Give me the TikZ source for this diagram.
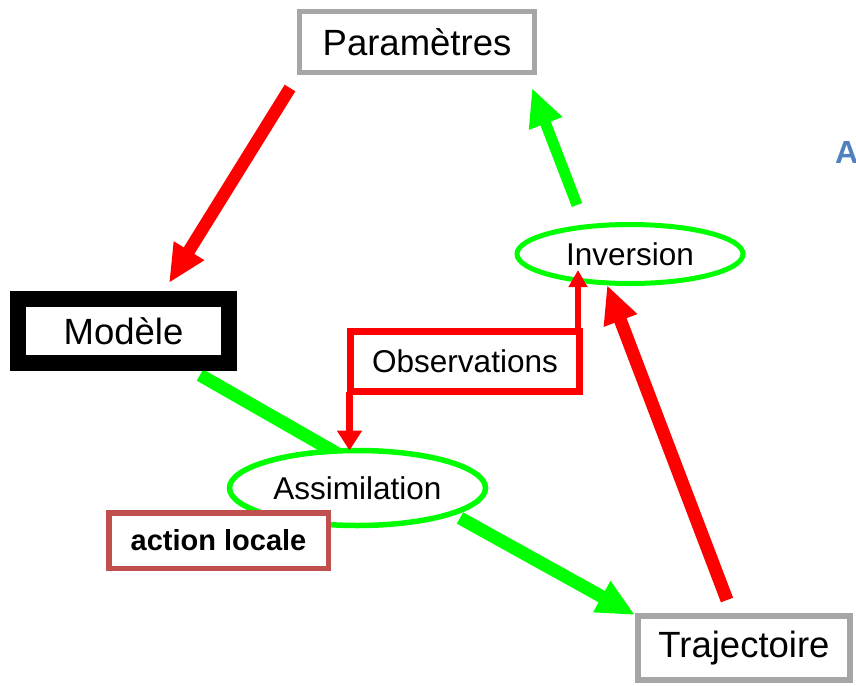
\documentclass[tikz,border=0pt]{standalone}
\usepackage{fontspec}
\setmainfont{Liberation Sans}
\usetikzlibrary{arrows.meta,shapes.geometric}
\definecolor{gr}{HTML}{00FF00}
\definecolor{rd}{HTML}{FF0000}
\definecolor{gy}{HTML}{A6A6A6}
\definecolor{brn}{HTML}{C0504D}
\definecolor{bl}{HTML}{4F81BD}
\tikzset{
  box/.style={draw, fill=white, rectangle, inner sep=0pt, outer sep=0pt},
  ell/.style={draw=gr, line width=5pt, fill=white, ellipse, inner sep=0pt, outer sep=0pt},
  bigtxt/.style={font=\fontsize{36.5}{40}\selectfont},
  midtxt/.style={font=\fontsize{31.5}{36}\selectfont},
  fat/.style={line width=12.5pt, -{Triangle[length=38pt,width=33pt]}},
}
\begin{document}
\begin{tikzpicture}[x=1pt,y=-1pt]
\useasboundingbox (0,0) rectangle (856,685);
% green line hidden behind the Assimilation ellipse
\coordinate (m1) at (200,375);
\coordinate (m2) at (352,462);
\draw[gr, line width=13pt] (m1) -- (m2);
% nodes
\node[box, draw=gy, line width=5pt, minimum width=235pt, minimum height=61pt, bigtxt] (param) at (417,42) {Paramètres};
\node[box, draw=black, line width=16pt, minimum width=211pt, minimum height=64pt, bigtxt] (modele) at (123.5,331) {Modèle};
\node[box, draw=rd, line width=7pt, minimum width=229pt, minimum height=60pt, midtxt] (obs) at (465,361.5) {Observations};
\node[ell, minimum width=226pt, minimum height=59pt, midtxt] (inv) at (630,254) {Inversion};
\node[ell, line width=5.5pt, minimum width=256pt, minimum height=75pt, midtxt] (assim) at (357.5,488) {Assimilation};
\node[box, draw=brn, line width=5.5pt, minimum width=219.5pt, minimum height=55.5pt, font=\fontsize{29}{32}\selectfont\bfseries] (action) at (218.5,540.5) {action locale};
\node[box, draw=gy, line width=6pt, minimum width=212pt, minimum height=64pt, bigtxt] (traj) at (744,648) {Trajectoire};
\node[anchor=base west, inner sep=0pt, text=bl, font=\fontsize{32}{36}\selectfont\bfseries] (lblA) at (835,163) {A};
% coordinates for arrows
\coordinate (a1) at (290,88);
\coordinate (a2) at (169,283);
\coordinate (b1) at (460,518);
\coordinate (b2) at (635,615);
\coordinate (c1) at (727,600);
\coordinate (c2) at (607,285);
\coordinate (d1) at (577,205);
\coordinate (d2) at (532,88);
\coordinate (invtip) at (578,270);
% big arrows
\draw[rd, fat] (a1) -- (a2);
\draw[gr, fat, line width=13pt] (b1) -- (b2);
\draw[rd, fat, line width=13pt] (c1) -- (c2);
\draw[gr, fat, line width=11pt] (d1) -- (d2);
% observation arrows
\draw[rd, line width=7pt, -{Triangle[length=20pt,width=24pt]}] ([xshift=-1pt]obs.south west) -- ([xshift=-1pt]obs.south west |- assim.north);
\draw[rd, line width=6pt, -{Triangle[length=17pt,width=18pt]}] ([xshift=-1.5pt,yshift=3pt]obs.north east) -- (invtip);
\end{tikzpicture}
\end{document}
